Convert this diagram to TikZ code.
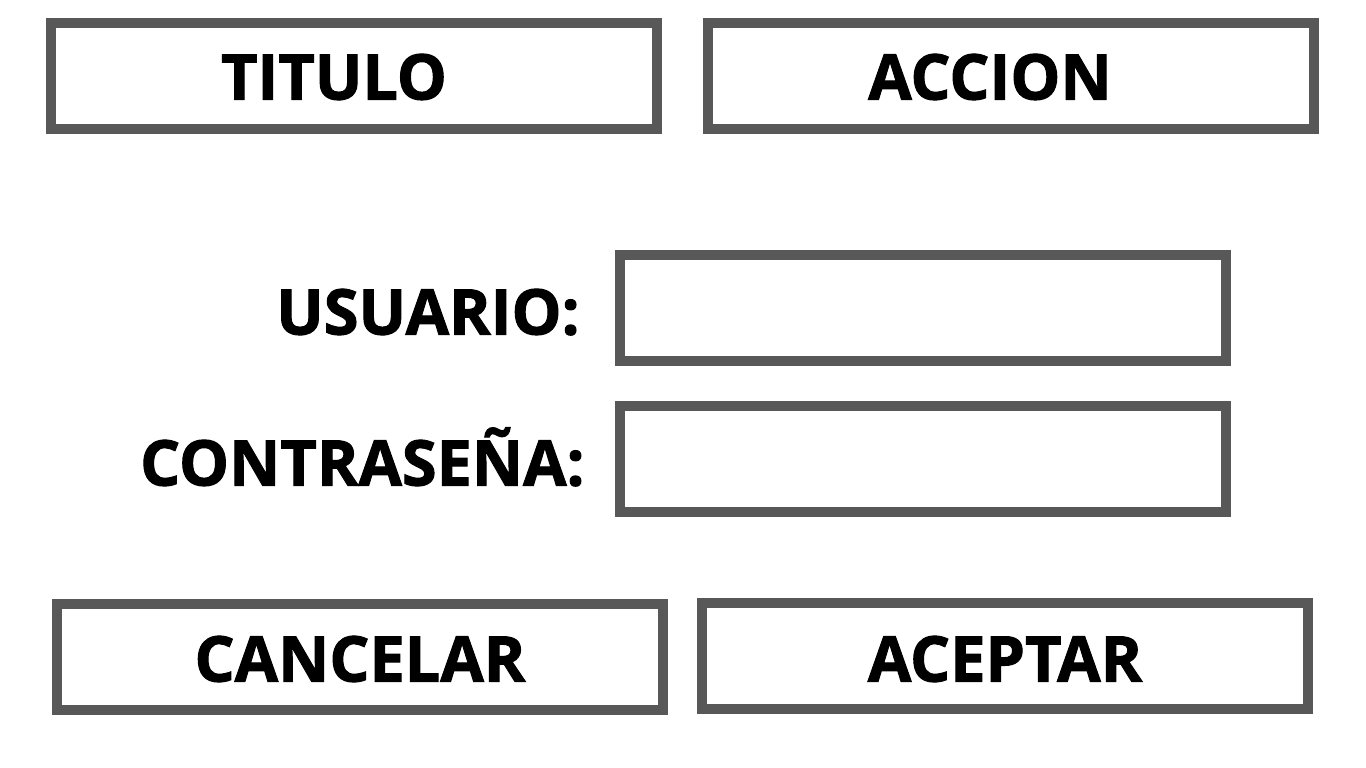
\documentclass[tikz,border=0pt]{standalone}
\usepackage{fontspec}
\setmainfont{Open Sans}[BoldFeatures={FakeBold=1.6}]
\usetikzlibrary{positioning}
\definecolor{boxgray}{HTML}{585858}

\tikzset{
	campo/.style={draw=boxgray, line width=10.5pt, minimum width=606pt, minimum height=106pt, inner sep=0pt},
	rotulo/.style={font=\fontsize{63}{70}\selectfont\bfseries, text height=45pt, text depth=0pt, inner sep=0pt}
}

\begin{document}
\begin{tikzpicture}[x=1pt, y=-1pt]
	\useasboundingbox (0,0) rectangle (1366,768);
	
	\node[campo] (titulo) at (354,76) {};
	\node[campo] (accion) at (1011,76) {};
	\node[rotulo] at ([xshift=-20pt, yshift=-1pt]titulo.center) {TITULO};
	\node[rotulo] at ([xshift=-21pt, yshift=-1pt]accion.center) {ACCION};
	
	\node[campo] (usuario) at (923,308) {};
	\node[campo] (clave) at (923,459) {};
	\node[rotulo, left=35pt of usuario, yshift=-4pt] (lusuario) {USUARIO:};
	\node[rotulo, left=30pt of clave, yshift=-4pt] (lclave) {CONTRASEÑA:};
	
	\node[campo] (cancelar) at (360,657) {};
	\node[campo] (aceptar) at (1005,656) {};
	\node[rotulo] at ([yshift=-2pt]cancelar.center) {CANCELAR};
	\node[rotulo] at ([yshift=-3pt]aceptar.center) {ACEPTAR};
\end{tikzpicture}
\end{document}
